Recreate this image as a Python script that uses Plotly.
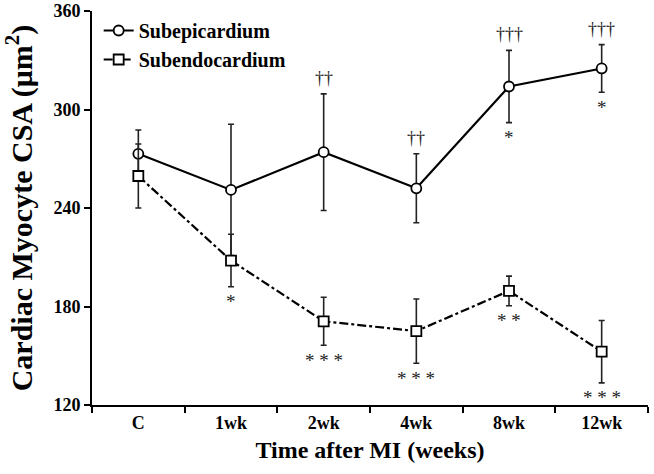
import plotly.graph_objects as go

categories = ["C", "1wk", "2wk", "4wk", "8wk", "12wk"]
epi_mean = [273, 251, 274, 252, 314, 325]
epi_err = [14.5, 40, 35.5, 21, 22, 14.5]
endo_mean = [259.5, 208, 171, 165, 189.5, 152.5]
endo_err = [19.5, 16, 14.6, 19.6, 9, 19]
epi_above = ["", "", "††", "††", "†††", "†††"]
epi_below = ["", "", "", "", "*", "*"]
endo_below = ["", "*", "* * *", "* * *", "* *", "* * *"]
yticks = [120, 180, 240, 300, 360]

FONT = "Liberation Serif, Times New Roman, serif"

fig = go.Figure()
fig.add_trace(go.Scatter(
    x=categories, y=epi_mean, name="Subepicardium", mode="lines+markers",
    line=dict(color="black", width=2.2),
    marker=dict(symbol="circle", size=10, color="white", line=dict(color="black", width=1.8)),
    error_y=dict(type="data", array=epi_err, color="#222", thickness=1.6, width=3),
))
fig.add_trace(go.Scatter(
    x=categories, y=endo_mean, name="Subendocardium", mode="lines+markers",
    line=dict(color="black", width=2.2, dash="dashdot"),
    marker=dict(symbol="square", size=10, color="white", line=dict(color="black", width=1.8)),
    error_y=dict(type="data", array=endo_err, color="#222", thickness=1.6, width=3),
))

ann = []
for i, c in enumerate(categories):
    if epi_above[i]:
        ann.append(dict(x=c, y=epi_mean[i] + epi_err[i], text=epi_above[i], showarrow=False,
                        yshift=16, font=dict(family=FONT, size=18, color="#222")))
    if epi_below[i]:
        ann.append(dict(x=c, y=epi_mean[i] - epi_err[i], text=epi_below[i], showarrow=False,
                        yshift=-15, font=dict(family=FONT, size=19, color="#222")))
    if endo_below[i]:
        ann.append(dict(x=c, y=endo_mean[i] - endo_err[i], text=endo_below[i], showarrow=False,
                        yshift=-15, font=dict(family=FONT, size=19, color="#222")))

fig.update_layout(
    width=654, height=474,
    margin=dict(l=92, r=6, t=11, b=69),
    paper_bgcolor="white", plot_bgcolor="white",
    font=dict(family=FONT, color="black"),
    showlegend=True,
    legend=dict(x=0.012, y=1.0, xanchor="left", yanchor="top", bgcolor="rgba(0,0,0,0)",
                font=dict(family=FONT, size=20, color="black", weight="bold"),
                itemwidth=30, tracegroupgap=0),
    annotations=ann,
    xaxis=dict(
        type="category", range=[-0.5, 5.5], tickson="boundaries", automargin=False,
        showline=True, linecolor="black", linewidth=2,
        ticks="outside", ticklen=6, tickwidth=2, tickcolor="black",
        showgrid=False, zeroline=False,
        tickfont=dict(family=FONT, size=18, color="black", weight="bold"),
        title=dict(text="Time after MI (weeks)", standoff=10,
                   font=dict(family=FONT, size=24, color="black", weight="bold")),
    ),
    yaxis=dict(
        range=[120, 360], tickvals=yticks, automargin=False, ticklabeloverflow="allow",
        showline=True, linecolor="black", linewidth=2,
        ticks="outside", ticklen=6, tickwidth=2, tickcolor="black",
        showgrid=False, zeroline=False,
        tickfont=dict(family=FONT, size=18, color="black", weight="bold"),
        title=dict(text="Cardiac Myocyte CSA (μm<sup>2</sup>)", standoff=16,
                   font=dict(family=FONT, size=30, color="black", weight="bold")),
    ),
)

fig.write_html("out.html", config={"displayModeBar": False},
               post_script="document.body.style.margin='0';")
